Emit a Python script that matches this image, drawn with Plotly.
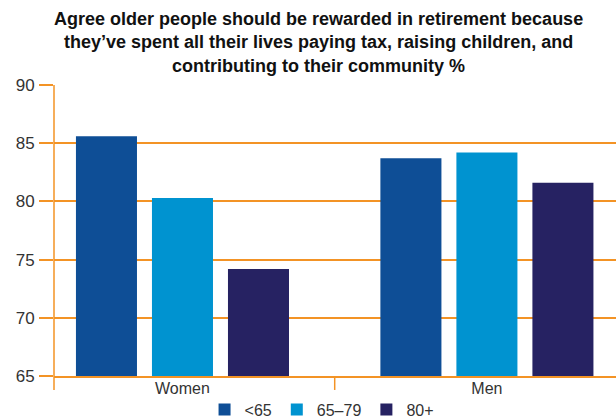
import plotly.graph_objects as go

# Survey result: share agreeing, by gender and age group
genders = ["Women", "Men"]
age_groups = ["<65", "65–79", "80+"]
values_under_65 = [85.6, 83.7]
values_65_79 = [80.3, 84.2]
values_80_plus = [74.2, 81.6]
y_ticks = [65, 70, 75, 80, 85, 90]
title_lines = [
    "Agree older people should be rewarded in retirement because",
    "they’ve spent all their lives paying tax, raising children, and",
    "contributing to their community %",
]

series = [values_under_65, values_65_79, values_80_plus]
colors = ["#0E4E96", "#0093D0", "#262262"]
orange = "#F39325"
font_family = "Liberation Sans, Arial, Helvetica, sans-serif"

fig = go.Figure()
for name, vals, col in zip(age_groups, series, colors):
    fig.add_trace(go.Bar(
        x=genders, y=vals, name=name,
        marker=dict(color=col, line=dict(width=0)),
    ))

fig.update_layout(
    width=616, height=418,
    margin=dict(l=54, r=0, t=85, b=42, autoexpand=False),
    paper_bgcolor="white", plot_bgcolor="white",
    font=dict(family=font_family, color="#333333", size=16),
    barmode="group", bargap=0.251, bargroupgap=0.197,
    showlegend=True,
    legend=dict(
        orientation="h", xref="container", x=0.522, xanchor="center",
        yref="container", y=0.02, yanchor="middle",
        font=dict(size=16, color="#333333"),
        itemwidth=30, traceorder="normal",
    ),
    xaxis=dict(
        type="category", range=[-0.422, 1.424],
        showgrid=False, showline=True, linecolor=orange, linewidth=1.5,
        ticks="", tickfont=dict(size=16, color="#333333"),
        ticklabelstandoff=-3,
    ),
    yaxis=dict(
        range=[65, 90], tickvals=y_ticks,
        showgrid=True, gridcolor=orange, gridwidth=1.5,
        zeroline=False, showline=False,
        ticks="outside", ticklen=14, tickcolor=orange, tickwidth=1.5,
        tickfont=dict(size=17, color="#333333"),
        ticklabelstandoff=1,
    ),
)

# Chart heading, three centred lines above the plot
fig.add_annotation(
    text="<b>" + "<br>".join(title_lines) + "</b>",
    xref="paper", yref="paper", x=0.47, y=1.268,
    xanchor="center", yanchor="top", align="center", showarrow=False,
    font=dict(size=18, color="#111111", family=font_family),
)

# Left axis line running below the plot, and the divider between groups
fig.add_shape(type="line", xref="paper", yref="paper",
              x0=0, x1=0, y0=-0.048, y1=1,
              line=dict(color=orange, width=1.5), layer="above")
fig.add_shape(type="line", xref="x", yref="paper",
              x0=0.5, x1=0.5, y0=-0.048, y1=0,
              line=dict(color=orange, width=1.5), layer="above")

fig.write_html("out.html")
